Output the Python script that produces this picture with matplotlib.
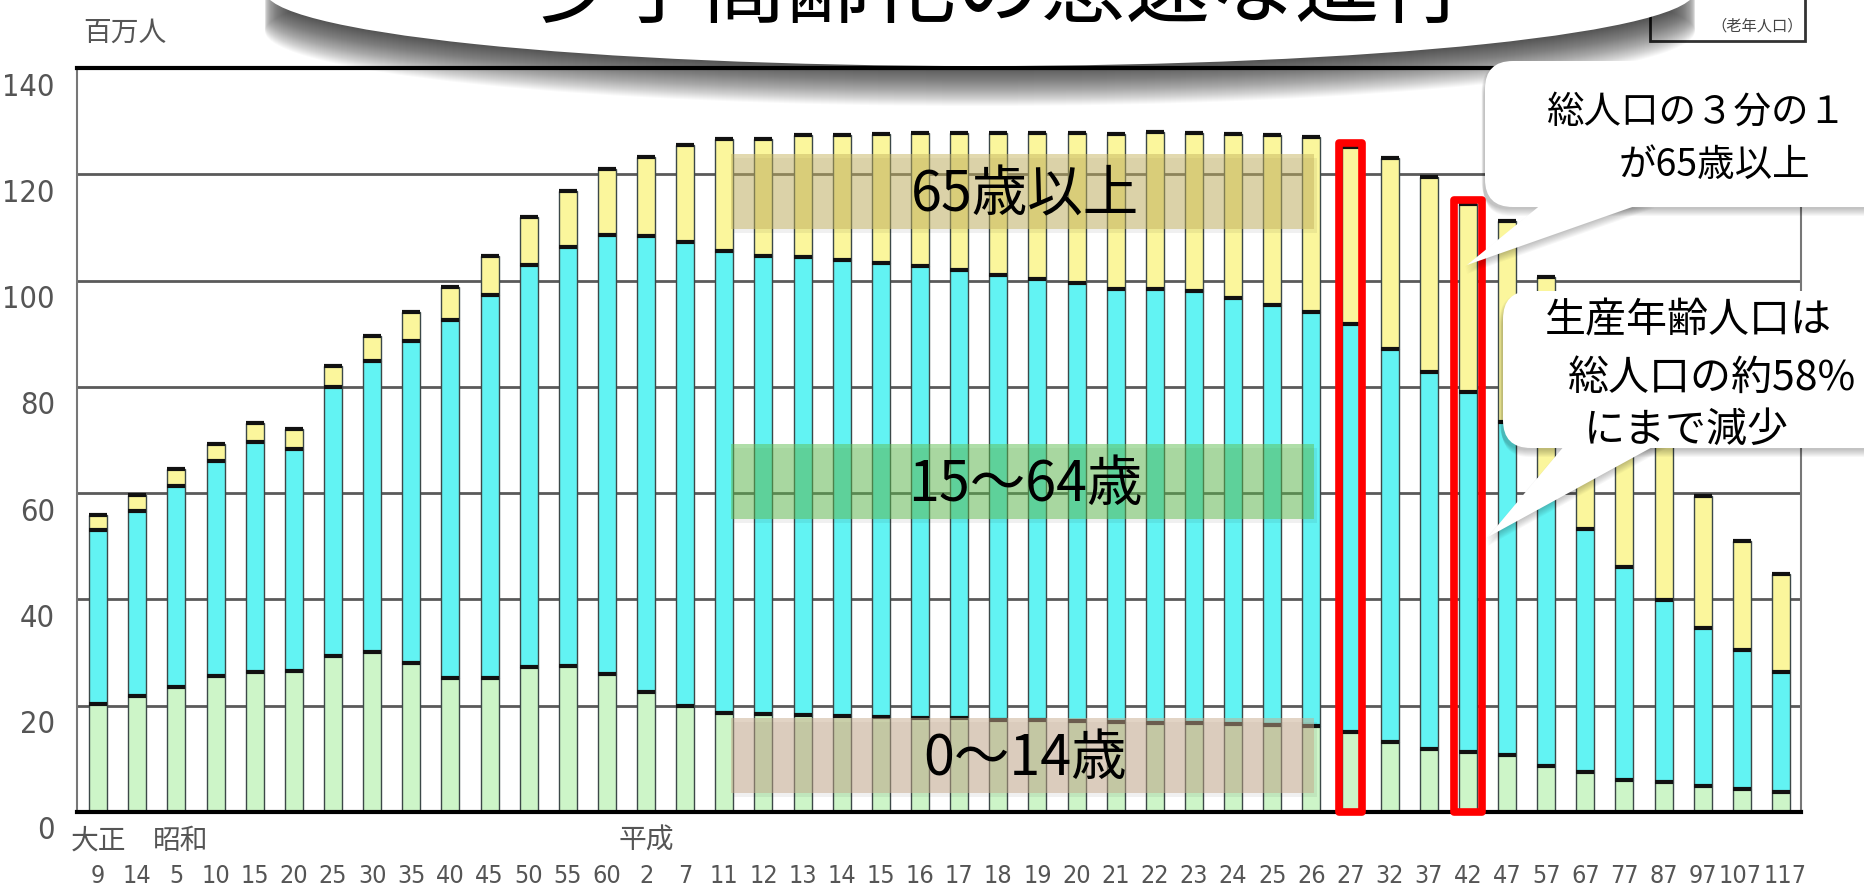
import numpy as np
import matplotlib
matplotlib.use('Agg')
import matplotlib.pyplot as plt
from matplotlib import font_manager
from matplotlib.patches import Rectangle, Ellipse, FancyBboxPatch, Polygon
from matplotlib.transforms import ScaledTranslation

# 年次ラベル（大正9年〜平成117年）
year_labels = ['9', '14', '5', '10', '15', '20', '25', '30', '35', '40', '45', '50', '55', '60',
               '2', '7', '11', '12', '13', '14', '15', '16', '17', '18', '19', '20', '21', '22',
               '23', '24', '25', '26', '27', '32', '37', '42', '47', '57', '67', '77', '87', '97',
               '107', '117']
era_labels = ['大正', '昭和', '平成']
era_pos = [0, 2.1, 14]

# 百万人
young = [20.4, 21.9, 23.6, 25.5, 26.4, 26.5, 29.4, 30.1, 28.1, 25.2, 25.2, 27.2, 27.5, 26.0,
         22.5, 20.0, 18.7, 18.5, 18.3, 18.1, 17.9, 17.7, 17.6, 17.4, 17.3, 17.2, 17.0, 16.8,
         16.7, 16.5, 16.4, 16.2, 15.1, 13.2, 11.9, 11.2, 10.8, 8.7, 7.5, 6.1, 5.7, 4.8, 4.4, 3.8]
working = [32.6, 34.8, 37.8, 40.5, 43.3, 41.8, 50.5, 54.7, 60.5, 67.4, 72.1, 75.8, 78.8, 82.5,
           85.9, 87.2, 86.8, 86.2, 86.1, 85.7, 85.4, 85.1, 84.4, 83.7, 83.0, 82.3, 81.5, 81.7,
           81.3, 80.2, 79.0, 77.9, 76.7, 74.0, 70.9, 67.8, 62.6, 54.0, 45.8, 40.0, 34.1, 29.8,
           26.1, 22.6]
elderly = [2.9, 3.0, 3.1, 3.2, 3.5, 3.7, 4.0, 4.8, 5.4, 6.2, 7.4, 8.9, 10.6, 12.5,
           14.9, 18.3, 21.2, 22.0, 22.9, 23.6, 24.3, 24.9, 25.8, 26.6, 27.5, 28.2, 29.0, 29.5,
           29.8, 30.8, 31.9, 33.0, 33.3, 35.8, 36.7, 35.4, 37.8, 37.9, 36.6, 34.2, 31.0, 24.9,
           20.5, 18.3]
yticks = [0, 20, 40, 60, 80, 100, 120, 140]

highlight = [32, 35]          # 平成27年, 42年
highlight_w = [0.6, 0.73]

group_labels = ['65歳以上', '15〜64歳', '0〜14歳']
callout1 = ['総人口の３分の１', 'が65歳以上']
callout2 = ['生産年齢人口は', '総人口の約58%', 'にまで減少']
title = '少子高齢化の急速な進行'

JP = ['Noto Sans CJK JP', 'DejaVu Sans']
fonts = font_manager.fontManager.ttflist
names = {f.name for f in fonts}
if 'Liberation Sans Narrow' in names:
    num_kw, xsize = {'family': 'Liberation Sans Narrow'}, 20
elif any(f.name == 'DejaVu Sans' and 'condensed' in str(f.stretch) for f in fonts):
    num_kw, xsize = {'family': 'DejaVu Sans', 'fontstretch': 'condensed'}, 18
else:
    num_kw, xsize = {'family': 'Liberation Sans'}, 17.5

W, H = 1864, 895
fig = plt.figure(figsize=(W / 100, H / 100), dpi=100)
ax = fig.add_axes([77 / W, 1 - 813 / H, (1801 - 77) / W, (813 - 69) / H])

x = np.arange(len(year_labels))
young = np.array(young)
working = np.array(working)
elderly = np.array(elderly)
mid = young + working
total = mid + elderly

bw = 0.46
edge = '#3c4848'
ax.bar(x, young, bw, color='#cdf5c8', edgecolor=edge, linewidth=1.0, zorder=2)
ax.bar(x, working, bw, bottom=young, color='#62f3f3', edgecolor=edge, linewidth=1.0, zorder=2)
ax.bar(x, elderly, bw, bottom=mid, color='#fbf69c', edgecolor=edge, linewidth=1.0, zorder=2)
for top in (young, mid, total):
    ax.hlines(top, x - bw / 2, x + bw / 2, color='#111111', lw=3, zorder=3)

ax.set_xlim(-0.54, 43.51)
ax.set_ylim(0, 140)
ax.set_yticks(yticks, [str(v) for v in yticks], fontsize=22, color='#555555', **num_kw)
ax.yaxis.grid(True, color='#5a5a5a', lw=2)
ax.set_axisbelow(True)
ax.tick_params(axis='y', length=0, pad=16)
offset = ScaledTranslation(0, -15 / 100, fig.dpi_scale_trans)
for lbl in ax.get_yticklabels():
    lbl.set_transform(lbl.get_transform() + offset)

ax.set_xticks(x, year_labels, fontsize=xsize, color='#555555', **num_kw)
ax.tick_params(axis='x', length=0, pad=37)
# 末尾の二つは詰まるので少し離す
xlbls = ax.get_xticklabels()
for lbl, dx in ((xlbls[-2], -2), (xlbls[-1], 4)):
    lbl.set_transform(lbl.get_transform() + ScaledTranslation(dx / 100, 0, fig.dpi_scale_trans))

for side in ('top', 'bottom'):
    ax.spines[side].set_color('black')
    ax.spines[side].set_linewidth(3)
for side in ('left', 'right'):
    ax.spines[side].set_color('#777777')
    ax.spines[side].set_linewidth(1.5)

for s, p in zip(era_labels, era_pos):
    ax.annotate(s, xy=(p, 0), xycoords=('data', 'axes fraction'), xytext=(0, -20),
                textcoords='offset points', ha='center', va='center', fontsize=20,
                color='#555555', family=JP, annotation_clip=False)

for i, w in zip(highlight, highlight_w):
    ax.add_patch(Rectangle((i - w / 2, 0), w, total[i] + 0.8, fill=False, edgecolor='#ff0000',
                           lw=5.5, zorder=6, clip_on=False, joinstyle='round'))

# 重ね書き用（ピクセル座標）
ov = fig.add_axes([0, 0, 1, 1], zorder=10)
ov.set_xlim(0, W)
ov.set_ylim(H, 0)
ov.axis('off')

ov.text(125, 33, '百万人', fontsize=20, color='#555555', ha='center', va='center', family=JP)

box_specs = [(155, 230, '#c7b561'), (445, 520, '#61bf52'), (719, 794, '#c7aa8c')]
for txt, (y0, y1, c) in zip(group_labels, box_specs):
    ov.add_patch(Rectangle((734, y0 + 4), 583, y1 - y0, color='black', alpha=0.06, lw=0))
    ov.add_patch(Rectangle((731, y0), 583, y1 - y0, color=c, alpha=0.5, lw=0))
    ov.text(1025, (y0 + y1) / 2 + 3, txt, fontsize=40, ha='center', va='center', family=JP)

# 凡例の切れ端
ov.add_patch(Rectangle((1650, -10), 155, 52, fc='white', ec='#333333', lw=2))
ov.text(1757, 26, '（老年人口）', fontsize=11, color='#444444', ha='center', va='center', family=JP)

# 吹き出し（タイトル）
for k in range(1, 41):
    ov.add_patch(Ellipse((980, -8 + k), 1430, 150, color='black', alpha=0.022, lw=0))
ov.add_patch(Ellipse((980, -8), 1430, 150, color='white', lw=0))
ov.text(533, 16, title, fontsize=61, family=JP, ha='left', va='baseline', color='black')


def callout(x0, y0, y1, tail, lines, centers, size):
    for d in range(2, 10):
        ov.add_patch(FancyBboxPatch((x0 - 4 + d * 0.3, y0 + d), 500, y1 - y0,
                                    boxstyle='round,pad=0,rounding_size=28',
                                    color='black', alpha=0.03, lw=0))
        ov.add_patch(Polygon([(px - 3 + d * 0.3, py + d) for px, py in tail],
                             color='black', alpha=0.03, lw=0))
    ov.add_patch(FancyBboxPatch((x0, y0), 500, y1 - y0, boxstyle='round,pad=0,rounding_size=28',
                                color='white', lw=0))
    ov.add_patch(Polygon(tail, color='white', lw=0))
    for s, (cx, cy) in zip(lines, centers):
        ov.text(cx, cy, s, fontsize=size, ha='center', va='center', family=JP)


callout(1485, 62, 208, [(1548, 200), (1655, 200), (1467, 266)], callout1,
        [(1697, 112), (1714, 165)], 27)
callout(1503, 292, 449, [(1570, 440), (1667, 440), (1488, 538)], callout2,
        [(1688, 321), (1712, 378), (1686, 430)], 29.5)

fig.savefig('out.png', dpi=100)
